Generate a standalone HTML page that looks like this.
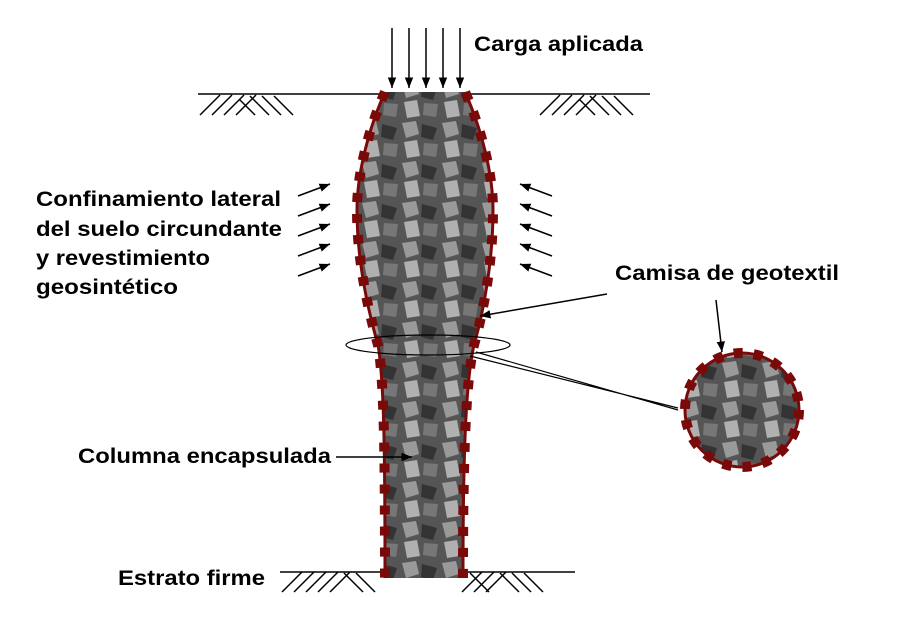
<!DOCTYPE html><html><head><style>body{margin:0;background:#fff}svg{display:block}text{font-family:"Liberation Sans",sans-serif;font-weight:bold;font-size:21px;fill:#000}</style></head><body>
<svg width="898" height="627" viewBox="0 0 898 627" xmlns="http://www.w3.org/2000/svg">
<defs>
<marker id="a" viewBox="0 0 10 10" refX="10" refY="5" markerWidth="7" markerHeight="7" orient="auto"><path d="M0,1 L10,5 L0,9z" fill="#000"/></marker>
<pattern id="r" width="40" height="40" patternUnits="userSpaceOnUse">
<rect width="40" height="40" fill="#555"/>
<path d="M2,3 L16,1 L19,14 L6,18z" fill="#9a9a9a"/>
<path d="M22,4 L37,8 L33,20 L21,17z" fill="#333"/>
<path d="M4,22 L17,20 L20,36 L7,38z" fill="#b0b0b0"/>
<path d="M24,23 L38,24 L36,37 L23,35z" fill="#777"/>
</pattern>
</defs>
<g stroke="#000" stroke-width="1.5" fill="none">
<line x1="198" y1="94" x2="650" y2="94"/>
<path d="M200,115 L220,95 M212,115 L232,95 M224,115 L244,95 M236,115 L256,95 M240,100 L255,115 M250,96 L269,115 M262,96 L281,115 M274,96 L293,115"/>
<path d="M540,115 L560,95 M552,115 L572,95 M564,115 L584,95 M576,115 L596,95 M580,100 L595,115 M590,96 L609,115 M602,96 L621,115 M614,96 L633,115"/>
<line x1="280" y1="572" x2="575" y2="572"/>
<path d="M282,592 L302,572 M294,592 L314,572 M306,592 L326,572 M318,592 L338,572 M330,592 L350,572 M344,573 L363,592 M356,573 L375,592"/>
<path d="M462,592 L482,572 M474,592 L494,572 M486,592 L506,572 M470,573 L489,592 M500,573 L519,592 M512,573 L531,592 M524,573 L543,592"/>
</g>
<g stroke="#000" stroke-width="1.5" marker-end="url(#a)">
<line x1="392" y1="28" x2="392" y2="88"/><line x1="409" y1="28" x2="409" y2="88"/><line x1="426" y1="28" x2="426" y2="88"/><line x1="443" y1="28" x2="443" y2="88"/><line x1="460" y1="28" x2="460" y2="88"/>
</g>
<path d="M385,92 C368,130 357,175 357,210 C357,260 368,310 378,345 C384,380 385,450 385,578 L463,578 C463,450 466,380 474,345 C484,310 493,260 493,210 C493,175 482,130 465,92 Z" fill="url(#r)"/>
<path d="M385,92 C368,130 357,175 357,210 C357,260 368,310 378,345 C384,380 385,450 385,578 M463,578 C463,450 466,380 474,345 C484,310 493,260 493,210 C493,175 482,130 465,92" fill="none" stroke="#7a0a0a" stroke-width="3"/>
<path d="M385,92 C368,130 357,175 357,210 C357,260 368,310 378,345 C384,380 385,450 385,578 M463,578 C463,450 466,380 474,345 C484,310 493,260 493,210 C493,175 482,130 465,92" fill="none" stroke="#7a0a0a" stroke-width="10" stroke-dasharray="9 12"/>
<circle cx="742" cy="410" r="57" fill="url(#r)" stroke="#7a0a0a" stroke-width="3"/>
<circle cx="742" cy="410" r="57" fill="none" stroke="#7a0a0a" stroke-width="10" stroke-dasharray="9 11"/>
<ellipse cx="428" cy="345" rx="82" ry="10" fill="none" stroke="#000" stroke-width="1.2"/>
<path d="M476,352 L678,410 M470,356 L678,408" stroke="#000" stroke-width="1.2" fill="none"/>
<g stroke="#000" stroke-width="1.5" marker-end="url(#a)">
<line x1="298" y1="196" x2="330" y2="184"/><line x1="298" y1="216" x2="330" y2="204"/><line x1="298" y1="236" x2="330" y2="224"/><line x1="298" y1="256" x2="330" y2="244"/><line x1="298" y1="276" x2="330" y2="264"/>
<line x1="552" y1="196" x2="520" y2="184"/><line x1="552" y1="216" x2="520" y2="204"/><line x1="552" y1="236" x2="520" y2="224"/><line x1="552" y1="256" x2="520" y2="244"/><line x1="552" y1="276" x2="520" y2="264"/>
<line x1="607" y1="294" x2="480" y2="316"/>
<line x1="716" y1="300" x2="722" y2="352"/>
<line x1="336" y1="457" x2="412" y2="457"/>
</g>
<text x="474" y="51" textLength="169" lengthAdjust="spacingAndGlyphs">Carga aplicada</text>
<text x="36" y="206" textLength="245" lengthAdjust="spacingAndGlyphs">Confinamiento lateral</text>
<text x="36" y="236" textLength="246" lengthAdjust="spacingAndGlyphs">del suelo circundante</text>
<text x="36" y="265" textLength="174" lengthAdjust="spacingAndGlyphs">y revestimiento</text>
<text x="36" y="294" textLength="142" lengthAdjust="spacingAndGlyphs">geosintético</text>
<text x="615" y="280" textLength="224" lengthAdjust="spacingAndGlyphs">Camisa de geotextil</text>
<text x="78" y="463" textLength="253" lengthAdjust="spacingAndGlyphs">Columna encapsulada</text>
<text x="118" y="585" textLength="147" lengthAdjust="spacingAndGlyphs">Estrato firme</text>
</svg></body></html>
